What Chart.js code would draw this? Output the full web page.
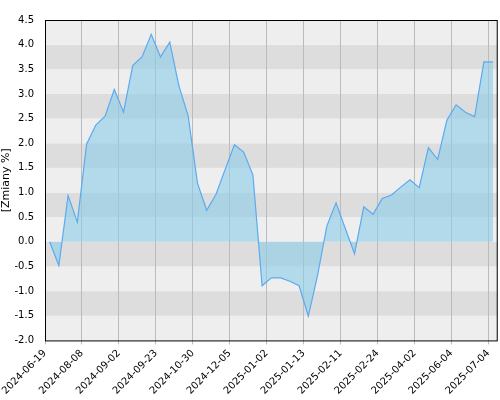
<!DOCTYPE html>
<html><head><meta charset="utf-8">
<script src="https://cdn.jsdelivr.net/npm/chart.js@4"></script>
<style>html,body{margin:0;padding:0;background:#fff}#w{width:500px;height:400px}</style>
</head><body><div id="w"><canvas id="c"></canvas></div>
<script>
const tickLabels=["2024-06-19","2024-08-08","2024-09-02","2024-09-23","2024-10-30","2024-12-05","2025-01-02","2025-01-13","2025-02-11","2025-02-24","2025-04-02","2025-06-04","2025-07-04"];
const values=[0.0,-0.48,0.94,0.40,1.98,2.37,2.55,3.09,2.63,3.58,3.75,4.21,3.75,4.05,3.16,2.55,1.19,0.64,0.96,1.47,1.97,1.82,1.36,-0.89,-0.73,-0.73,-0.80,-0.89,-1.51,-0.68,0.32,0.79,0.27,-0.24,0.71,0.56,0.88,0.95,1.11,1.26,1.10,1.91,1.67,2.47,2.78,2.63,2.54,3.65,3.65];
const pts=values.map((v,i)=>({x:i,y:v}));
const bands={id:'bands',beforeDraw(ch){const {ctx,chartArea:a,scales:{y}}=ch;ctx.save();
for(let v=-2;v<4.5;v+=0.5){const k=Math.round((v+2)*2);ctx.fillStyle=(k%2===0)?'#eeeeee':'#dddddd';
const t=y.getPixelForValue(v+0.5),b=y.getPixelForValue(v);ctx.fillRect(a.left,t,a.right-a.left,b-t);}
ctx.restore();},
afterDraw(ch){const {ctx,chartArea:a}=ch;ctx.save();ctx.strokeStyle='#000';ctx.lineWidth=1;ctx.strokeRect(a.left+0.5,a.top+0.5,a.right-a.left-1,a.bottom-a.top);ctx.restore();}};
new Chart(document.getElementById('c'),{type:'line',
data:{datasets:[{data:pts,borderColor:'#5aaaf0',borderWidth:1.2,backgroundColor:'rgba(140,205,232,0.6)',fill:'origin',pointRadius:0,tension:0}]},
options:{responsive:true,maintainAspectRatio:false,animation:false,
layout:{padding:{top:20,right:1,left:0,bottom:0}},
plugins:{legend:{display:false},tooltip:{enabled:false}},
scales:{
x:{type:'linear',min:-0.5,max:48.5,
afterBuildTicks(s){s.ticks=tickLabels.map((l,i)=>({value:-0.5+4*i}));},
ticks:{autoSkip:false,maxRotation:45,minRotation:45,color:'#000',font:{family:'DejaVu Sans',size:10},callback:(v,i)=>tickLabels[i]},
grid:{color:'#bbbbbb',drawTicks:true,tickLength:4},border:{display:false}},
y:{min:-2,max:4.5,afterFit(s){s.width=45;},
afterBuildTicks(s){const t=[];for(let v=-2;v<=4.5001;v+=0.5)t.push({value:Math.round(v*10)/10});s.ticks=t;},
ticks:{color:'#000',font:{family:'DejaVu Sans',size:10},callback:v=>v.toFixed(1)},
grid:{display:false},border:{display:false},
title:{display:true,text:'[Zmiany %]',color:'#000',font:{family:'DejaVu Sans',size:11},padding:0}}}},
plugins:[bands]});
</script></body></html>
